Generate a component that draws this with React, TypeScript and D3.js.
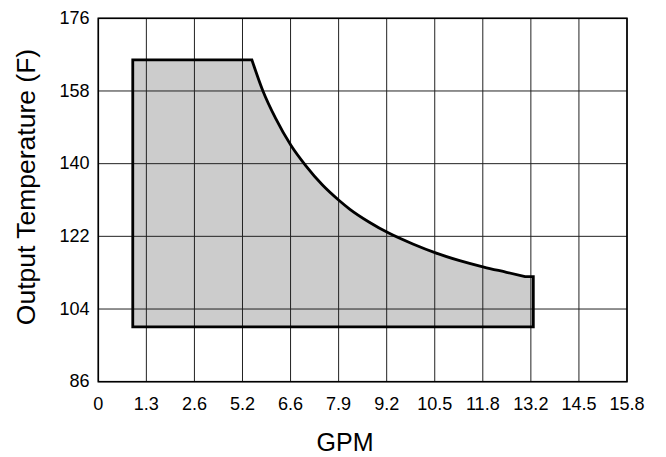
import React from "react";
import * as d3 from "d3";

const xTickLabels = ["0", "1.3", "2.6", "5.2", "6.6", "7.9", "9.2", "10.5", "11.8", "13.2", "14.5", "15.8"];
const yTicks = [86, 104, 122, 140, 158, 176];

// operating envelope (GPM, °F)
const leftGpm = 1.03;
const rightGpm = 13.0;
const minTemp = 99.6;
const maxTemp = 165.7;
const endTemp = 112.0;
const curveGpm = [4.59, 4.92, 5.3, 5.76, 6.21, 6.7, 7.18, 7.52, 8.1, 8.68, 9.4, 10.08, 10.8, 11.52, 12.2, 12.77];
const curveTemp = [165.7, 158.0, 151.2, 144.5, 139.4, 134.7, 131.0, 128.7, 125.5, 122.8, 120.1, 117.9, 116.0, 114.4, 113.1, 112.0];

const W = 666;
const H = 457;
const L = 98.3, R = 627, T = 18.3, B = 381.7;
const FONT = "'Liberation Sans', Arial, Helvetica, sans-serif";

export default function App() {
  const x = d3.scaleLinear().domain([0, 15.8]).range([L, R]);
  const y = d3.scaleLinear().domain([86, 176]).range([B, T]);
  const xTickVals = d3.range(xTickLabels.length).map((i) => (i * 15.8) / (xTickLabels.length - 1));

  const curvePts: [number, number][] = curveGpm.map((g, i) => [x(g), y(curveTemp[i])]);
  const curveStr = d3.line().curve(d3.curveMonotoneX)(curvePts) || "";
  const shape =
    `M${x(leftGpm)},${y(minTemp)}L${x(leftGpm)},${y(maxTemp)}L` +
    curveStr.slice(1) +
    `L${x(rightGpm)},${y(endTemp)}L${x(rightGpm)},${y(minTemp)}Z`;

  return (
    <svg width={W} height={H} style={{ position: "absolute", left: 0, top: 0, background: "#fff" }}>
      <path d={shape} fill="#cccccc" stroke="none" />
      {xTickVals.map((v, i) => (
        <line key={"vx" + i} x1={x(v)} x2={x(v)} y1={T} y2={B} stroke="#222" strokeWidth={1} />
      ))}
      {yTicks.map((v) => (
        <line key={"hy" + v} x1={L} x2={R} y1={y(v)} y2={y(v)} stroke="#222" strokeWidth={1} />
      ))}
      <path d={shape} fill="none" stroke="#000" strokeWidth={2.8} strokeLinejoin="miter" />
      <rect x={L} y={T} width={R - L} height={B - T} fill="none" stroke="#000" strokeWidth={1.6} />
      {xTickVals.map((v, i) => (
        <text key={"tx" + i} x={x(v)} y={410.5} textAnchor="middle" fontFamily={FONT} fontSize={19} fill="#000"
          transform={`translate(${x(v)},0) scale(0.95,1) translate(${-x(v)},0)`}>
          {xTickLabels[i]}
        </text>
      ))}
      {yTicks.map((v) => (
        <text key={"ty" + v} x={89.5} y={y(v) + 5.8} textAnchor="end" fontFamily={FONT} fontSize={19} fill="#000"
          transform={`translate(89.5,0) scale(0.95,1) translate(-89.5,0)`}>
          {v}
        </text>
      ))}
      <text x={345} y={450.5} textAnchor="middle" fontFamily={FONT} fontSize={25} fill="#000">
        GPM
      </text>
      <text
        transform={`translate(35,187) rotate(-90)`}
        textAnchor="middle"
        fontFamily={FONT}
        fontSize={26.5}
        fill="#000"
      >
        Output Temperature (F)
      </text>
    </svg>
  );
}
